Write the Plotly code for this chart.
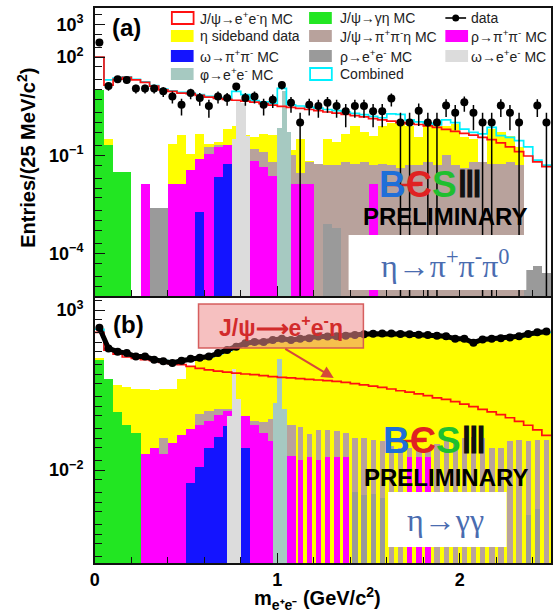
import math
import plotly.graph_objects as go

N = None
W, H = 553, 615
BIN_W = 0.05
N_BINS = 50
CENTERS = [BIN_W * (i + 0.5) for i in range(N_BINS)]
EDGES = [BIN_W * i for i in range(N_BINS + 1)]
PEAK_W = 0.025

# ---------------- panel (a): eta -> pi+ pi- pi0 ----------------
GREEN_A = [10, 0.2, 0.03, 0.03] + [N] * 46
YELLOW_A = [N, 0.32, N, N, N, N, N, N, 0.22, 0.41,
            0.11, 0.46, 0.22, 0.25, 0.65, 0.81, 0.41, 0.35, 0.46, 0.41,
            0.16, 0.14, 0.32, 0.069, 0.035, 0.32, 0.25, 0.45, 0.79, 0.5,
            0.4, 0.79, 1.0, 0.89, 0.79, 0.35, 0.79, 0.79, 0.79, 0.89,
            0.35, 0.32, N, 0.63, 0.5, 0.4, 0.18, N, N, N]
BROWN_A = [N] * 10 + \
          [N, N, 0.18, 0.2, 0.2, 0.18, 0.16, 0.16, 0.13, 0.063,
           0.13, 0.1, 0.028, 0.063, 0.056, 0.05, 0.05, 0.063, 0.056, 0.063,
           0.05, 0.056, 0.05, 0.04, 0.05, 0.05, 0.063, 0.05, 0.1, 0.05,
           0.04, 0.063, 0.063, 0.056, 0.056, 0.063, 0.05, N, N, N]
GRAY_A = [N, N, N, N, N, N, 0.0025, 0.0025, N, N] + [N] * 10 + \
         [N, N, N, N, N, 0.0008, 0.0006, N, N, N] + [N] * 10 + \
         [N, N, N, N, N, N, N, 3.2e-5, 4e-5, 2.5e-5]
MAGENTA_A = [N, N, N, N, N, 0.0135, N, N, 0.0135, 0.0135,
             0.035, 0.079, 0.11, 0.18, 0.21, 0.19, 0.11, 0.069, 0.044, 0.024,
             0.0135, 0.0135, 0.0135, 0.0135, N, N, N, N, N, N,
             0.0135] + [N] * 19
BLUE_A = [N] * 10 + [N, 0.0018, N, 0.021, 0.055, 0.1, 0.0033, N, N, N] + [N] * 30
OMEGA_EE_X_A = [0.7625, 0.7875, 0.8125, 0.8375]
OMEGA_EE_A = [0.32, 5.0, 4.0, 0.4]
PHI_EE_X_A = [1.0125, 1.0375, 1.0625]
PHI_EE_A = [0.7, 8.9, 0.5]
SIGNAL_A = [100, 14, 21, 24, 20, 17, 13, 10, 8.9, 7.9,
            7.6, 6.8, 6.0, 5.5, 5.1, 4.8, 4.5, 4.2, 3.8, 3.4,
            3.1, 2.9, 2.7, 2.5, 2.3, 2.1, 1.95, 1.78, 1.62, 1.48,
            1.32, 1.2, 1.1, 1.0, 0.93, 0.87, 0.79, 0.71, 0.62, 0.54,
            0.47, 0.41, 0.35, 0.3, 0.24, 0.18, 0.13, 0.095, 0.063, 0.045]
COMBINED_A = [100, 20, 23, 25, 21, 17.5, 13.5, 10.5, 9.3, 8.3,
              8.0, 7.1, 6.3, 5.8, 5.4, 8.9, 7.1, 4.7, 4.3, 3.8,
              11, 3.5, 3.2, 2.95, 2.75, 2.5, 2.3, 2.1, 1.9, 1.75,
              1.55, 1.4, 1.85, 1.78, 1.2, 1.05, 0.95, 0.85, 1.2, 1.0,
              0.63, 0.5, 0.45, 0.71, 0.4, 0.35, 0.28, 0.18, 0.071, 0.05]
DATA_A = [280, 13, 21, 20, 11, 11, 11, 9, 6.3, 3.5,
          8, 5.6, 3.2, 6.3, 5.6, 12.6, 5.6, 6.3, 3.5, 5,
          14, 4, 1, 3.5, 3.2, 4, 3.2, 2.2, 3.2, 3.2,
          2.2, 2.2, 5.4, 1, 1, 2.3, 1, 1, 3.3, 2,
          4.2, 2, 1, 1, 3.3, 2, 1, N, 3.3, 1]

# ---------------- panel (b): eta -> gamma gamma ----------------
GREEN_B = [28, 7, 0.63, 0.25, 0.14] + [N] * 45
YELLOW_B = [32, 5.6, 4.5, 3.8, 3.5, 3.3, 3.2, 3.3, 3.5, 7.1,
            18, 28, 32, 40, 50, 66, 79, 89, 93, 100,
            110, 110, 115, 120, 126, 129, 132, 138, 145, 151,
            158, 162, 162, 155, 151, 148, 145, 138, 132, 115,
            107, 89, 105, 110, 115, 120, 132, 155, 174, 186]
BROWN_B = [N, N, N, N, N, N, N, 0.1, N, N,
           N, 0.56, 0.71, 0.79, 0.83, 0.79, 0.32, 0.35, 0.32, 0.4,
           0.45, 0.25, 0.22, 0.13, 0.18, 0.18, 0.17, 0.14, 0.1, 0.1,
           0.089, 0.079, 0.056, 0.05, 0.05, 0.045, 0.05, 0.063, 0.079, 0.087,
           0.1, 0.11, 0.1, 0.05, 0.05, 0.079, 0.087, 0.079, 0.087, 0.087]
GRAY_B = [N, N, N, N, N, 0.0002, N, N, N, N] + [N] * 10 + \
         [N, N, N, N, N, N, N, 0.0025, 0.002, 0.0016] + \
         [0.0018, 0.0013] + [N] * 8 + \
         [N, N, N, N, N, N, N, 0.0004, 0.0006, N]
MAGENTA_B = [N, N, N, N, N, 0.032, 0.05, 0.032, 0.071, 0.12,
             0.19, 0.25, 0.35, 0.52, 0.72, 0.71, 0.5, 0.25, 0.14, 0.079,
             0.042, 0.028, 0.02, 0.025, 0.02, 0.025, 0.025, 0.025, N, N,
             N, N, N, N, 0.025, 0.025, 0.025, N, N, N] + [N] * 10
BLUE_B = [N] * 10 + [0.004, 0.0126, 0.05, 0.11, 0.24, 0.25, 0.05, N, N, N] + [N] * 30
OMEGA_EE_X_B = [0.7375, 0.7625, 0.7875]
OMEGA_EE_B = [0.5, 14, 1.6]
PHI_EE_X_B = [0.9875, 1.0125, 1.0375]
PHI_EE_B = [1.2, 30, 0.8]
SIGNAL_B = [200, 56, 42, 34, 31, 28, 26, 23, 21, 19.5,
            17.4, 15, 13.5, 12.3, 11.5, 10.7, 10, 9.5, 8.9, 8.3,
            7.9, 7.6, 7.2, 6.8, 6.5, 6.2, 5.9, 5.5, 5.0, 4.6,
            4.2, 3.8, 3.4, 3.0, 2.7, 2.4, 2.1, 1.8, 1.6, 1.38,
            1.15, 0.95, 0.79, 0.66, 0.54, 0.43, 0.33, 0.25, 0.18, 0.12]
COMBINED_B = [250, 60, 48, 43, 36, 33, 29, 26, 24, 25,
              28, 32, 35, 43, 54, 72, 85, 95, 100, 107,
              117, 117, 123, 129, 138, 141, 145, 151, 158, 166,
              174, 178, 178, 170, 166, 162, 158, 151, 145, 126,
              117, 100, 115, 120, 126, 132, 145, 166, 186, 200]
DATA_B = [280, 63, 50, 45, 35, 35, 28, 25, 22, 26,
          30, 32, 35, 45, 56, 71, 91, 100, 100, 115,
          126, 115, 126, 130, 148, 148, 151, 158, 166, 174,
          182, 186, 186, 178, 174, 170, 166, 158, 151, 126,
          126, 95, 120, 126, 132, 138, 151, 178, 200, 214]

# ---------------- styles ----------------
C_GREEN = "#22e622"
C_YELLOW = "#ffff00"
C_BROWN = "#b8a29c"
C_GRAY = "#9a9a9a"
C_MAGENTA = "#ff00ff"
C_BLUE = "#1414ff"
C_LGRAY = "#dcdcdc"
C_TEAL = "#a6c9c1"
C_RED = "#ff1010"
C_CYAN = "#00f0ff"
FONT = "Arial, Liberation Sans, sans-serif"
# in (b) above 1.1 GeV the sparse MC bins appear as separated narrow bars
NARROW_FROM = 22
WIDTHS_B = [BIN_W if i < NARROW_FROM else 0.6 * BIN_W for i in range(N_BINS)]

fig = go.Figure()


def add_bars(xs, vals, width, color, xa, ya):
    fig.add_trace(go.Bar(x=xs, y=vals, width=width, xaxis=xa, yaxis=ya,
                         marker=dict(color=color, line=dict(width=0)),
                         showlegend=False, hoverinfo="skip"))


def add_step(vals, color, xa, ya):
    fig.add_trace(go.Scatter(x=EDGES, y=vals + [vals[-1]], mode="lines",
                             line=dict(color=color, width=1.7, shape="hv"),
                             xaxis=xa, yaxis=ya, showlegend=False, hoverinfo="skip"))


def add_data(vals, xa, ya, size, band):
    xs = [c for c, v in zip(CENTERS, vals) if v is not None]
    ys = [v for v in vals if v is not None]
    err = [math.sqrt(v) for v in ys]
    errm = [min(e, v * (1 - 1e-7)) for e, v in zip(err, ys)]
    fig.add_trace(go.Scatter(x=xs, y=ys, mode="lines+markers" if band else "markers",
                             xaxis=xa, yaxis=ya,
                             line=dict(color="black", width=5),
                             marker=dict(color="black", size=size),
                             error_y=dict(type="data", array=err, arrayminus=errm,
                                          color="black", thickness=1.5, width=0),
                             showlegend=False, hoverinfo="skip"))


panels = [
    ("x", "y", BIN_W, GREEN_A, YELLOW_A, BROWN_A, GRAY_A, MAGENTA_A, BLUE_A,
     OMEGA_EE_X_A, OMEGA_EE_A, PHI_EE_X_A, PHI_EE_A, SIGNAL_A, COMBINED_A, DATA_A, False),
    ("x2", "y2", WIDTHS_B, GREEN_B, YELLOW_B, BROWN_B, GRAY_B, MAGENTA_B, BLUE_B,
     OMEGA_EE_X_B, OMEGA_EE_B, PHI_EE_X_B, PHI_EE_B, SIGNAL_B, COMBINED_B, DATA_B, True),
]
for xa, ya, wmc, g, yl, br, gr, mg, bl, ox, oy, phx, phy, sig, comb, dat, band in panels:
    add_bars(CENTERS, yl, BIN_W, C_YELLOW, xa, ya)
    add_bars(CENTERS, g, BIN_W, C_GREEN, xa, ya)
    add_bars(CENTERS, br, wmc, C_BROWN, xa, ya)
    add_bars(CENTERS, gr, wmc, C_GRAY, xa, ya)
    add_bars(CENTERS, mg, wmc, C_MAGENTA, xa, ya)
    add_bars(CENTERS, bl, BIN_W, C_BLUE, xa, ya)
    add_bars(ox, oy, PEAK_W, C_LGRAY, xa, ya)
    add_bars(phx, phy, PEAK_W, C_TEAL, xa, ya)
    add_step(comb, C_CYAN, xa, ya)
    add_step(sig, C_RED, xa, ya)
    add_data(dat, xa, ya, 8, band)


def PX(x):
    return x / W


def PY(y):
    return 1 - y / H


X_DOM = [PX(91), 1.0]
decades = list(range(-6, 4))


def ylog_axis(domain, rng, labelled):
    vals = [10 ** e for e in labelled]
    text = ["<b>10<sup>%d</sup></b>" % e if e >= 0 else "<b>10<sup>\u2212%d</sup></b>" % (-e)
            for e in labelled]
    minor_vals = [m * 10 ** e for e in decades for m in (1, 2, 5) if not (m == 1 and e in labelled)]
    return dict(domain=domain, type="log", range=rng, showline=True, mirror=True,
                linecolor="#111", linewidth=1.6, ticks="inside", ticklen=10,
                tickcolor="#111", tickwidth=1.3, tickmode="array", tickvals=vals,
                ticktext=text, showgrid=False, zeroline=False,
                tickfont=dict(family=FONT, size=18, color="black"),
                ticklabelstandoff=6,
                minor=dict(tickmode="array", tickvals=minor_vals, ticks="inside",
                           ticklen=7, tickcolor="#111", tickwidth=1.2, showgrid=False))


def x_axis(anchor, labels):
    return dict(domain=X_DOM, anchor=anchor, range=[0, 2.5], showline=True, mirror=True,
                linecolor="#111", linewidth=1.6, ticks="inside", ticklen=10,
                tickcolor="#111", tickwidth=1.3, tickmode="array", tickvals=[0, 1, 2],
                ticktext=["<b>0</b>", "<b>1</b>", "<b>2</b>"], showticklabels=labels,
                tickfont=dict(family=FONT, size=18, color="black"),
                showgrid=False, zeroline=False,
                minor=dict(dtick=0.2, tick0=0, ticks="inside", ticklen=6,
                           tickcolor="#111", tickwidth=1.2, showgrid=False))


fig.update_layout(
    width=W, height=H, margin=dict(l=0, r=0, t=0, b=0),
    paper_bgcolor="white", plot_bgcolor="white",
    barmode="overlay", bargap=0, showlegend=False,
    xaxis=x_axis("y", False),
    yaxis=ylog_axis([PY(296), PY(8)], [-5.3, 3.5], [3, 2, -1, -4]),
    xaxis2=x_axis("y2", True),
    yaxis2=ylog_axis([PY(563), PY(298)], [-4.906, 3.375], [3, -2]),
)
fig.layout.yaxis.anchor = "x"
fig.layout.yaxis2.anchor = "x2"

shapes = []
ann = []


def text(x, y, s, size, color="black", bold=False, family=FONT, xanchor="center", angle=0):
    ann.append(dict(x=PX(x), y=PY(y), xref="paper", yref="paper", text=("<b>%s</b>" % s) if bold else s,
                    showarrow=False, xanchor=xanchor, yanchor="middle", textangle=angle,
                    font=dict(family=family, size=size, color=color)))


def rect(x0, y0, x1, y1, fill, line=None, lw=0):
    shapes.append(dict(type="rect", xref="paper", yref="paper", x0=PX(x0), x1=PX(x1),
                       y0=PY(y1), y1=PY(y0), fillcolor=fill, layer="above",
                       line=dict(color=line or fill, width=lw)))


def hline(x0, x1, y, color, w):
    shapes.append(dict(type="line", xref="paper", yref="paper", x0=PX(x0), x1=PX(x1),
                       y0=PY(y), y1=PY(y), layer="above", line=dict(color=color, width=w)))


# ---------------- legend ----------------
ROWS = [18, 36, 56, 74]
LEG = [
    (168, 195, 0, "J/\u03c8\u2192e<sup>+</sup>e<sup>-</sup>\u03b7 MC", "outline", C_RED),
    (168, 195, 1, "\u03b7 sideband data", "fill", C_YELLOW),
    (168, 195, 2, "\u03c9\u2192\u03c0<sup>+</sup>\u03c0<sup>-</sup> MC", "fill", C_BLUE),
    (168, 195, 3, "\u03c6\u2192e<sup>+</sup>e<sup>-</sup> MC", "fill", C_TEAL),
    (308, 337, 0, "J/\u03c8\u2192\u03b3\u03b7 MC", "fill", C_GREEN),
    (308, 337, 1, "J/\u03c8\u2192\u03c0<sup>+</sup>\u03c0<sup>-</sup>\u03b7 MC", "fill", C_BROWN),
    (308, 337, 2, "\u03c1\u2192e<sup>+</sup>e<sup>-</sup> MC", "fill", C_GRAY),
    (308, 337, 3, "Combined", "outline", C_CYAN),
    (446, 470, 0, "data", "marker", "black"),
    (446, 470, 1, "\u03c1\u2192\u03c0<sup>+</sup>\u03c0<sup>-</sup> MC", "fill", C_MAGENTA),
    (446, 470, 2, "\u03c9\u2192e<sup>+</sup>e<sup>-</sup> MC", "fill", C_LGRAY),
]
for sx, tx, r, label, kind, col in LEG:
    yc = ROWS[r]
    if kind == "fill":
        rect(sx, yc - 6, sx + 23, yc + 6, col)
    elif kind == "outline":
        rect(sx + 1, yc - 6, sx + 23, yc + 6, "rgba(0,0,0,0)", col, 1.8)
    else:
        hline(sx, sx + 21, yc, "black", 1.6)
        shapes.append(dict(type="circle", xref="paper", yref="paper",
                           x0=PX(sx + 7), x1=PX(sx + 14), y0=PY(yc + 3.5), y1=PY(yc - 3.5),
                           fillcolor="black", line=dict(color="black", width=0), layer="above"))
    text(tx, yc, label, 14, color="#222", xanchor="left")

# ---------------- panel labels ----------------
text(123, 27, "(a)", 24, bold=True)
text(125, 324, "(b)", 24, bold=True)

# axis titles
text(22, 158, "Entries/(25 MeV/c<sup>2</sup>)", 20, bold=True, angle=-90)
text(250, 598, "m<sub>e\u207ae\u207b</sub> (GeV/c<sup>2</sup>)", 20, bold=True, xanchor="left")

# ---------------- BESIII logos ----------------
LOGO = ('<span style="color:#1f6fd8">B</span><span style="color:#e02222">\u0404</span>'
        '<span style="color:#1fbf2f">S</span><span style="color:#111">\u2162</span>')
for (lx, ly, prx, pry) in [(431, 184, 446, 217), (436, 440, 447, 477)]:
    text(lx, ly, LOGO, 37, bold=True)
    hline(lx - 45, lx - 12, ly + 1, "#e02222", 2.5)
    text(prx, pry, "PRELIMINARY", 24, bold=True)

# decay boxes
rect(348, 235, 528, 290, "white")
text(446, 264, "\u03b7\u2192\u03c0<sup>+</sup>\u03c0<sup>-</sup>\u03c0<sup>0</sup>", 32,
     color="#4a6cb0", family="Liberation Serif, Times New Roman, serif")
rect(388, 492, 508, 547, "white")
text(446, 520, "\u03b7\u2192\u03b3\u03b3", 32, color="#4a6cb0",
     family="Liberation Serif, Times New Roman, serif")

# signal box in (b)
rect(196, 304, 363, 348, "rgba(238,140,140,0.55)", "rgba(210,80,80,0.9)", 1.5)
text(280, 326, "J/\u03c8\u27f6e<sup>+</sup>e<sup>-</sup>\u03b7", 23, color="#d22b2b", bold=True)
ann.append(dict(x=PX(333), y=PY(378), xref="paper", yref="paper", text="",
                showarrow=True, ax=-50, ay=-30, arrowcolor="#d64a3a", arrowwidth=2.2,
                arrowhead=2, arrowsize=1.1))

fig.update_layout(shapes=shapes, annotations=ann)
fig.write_html("out.html")
